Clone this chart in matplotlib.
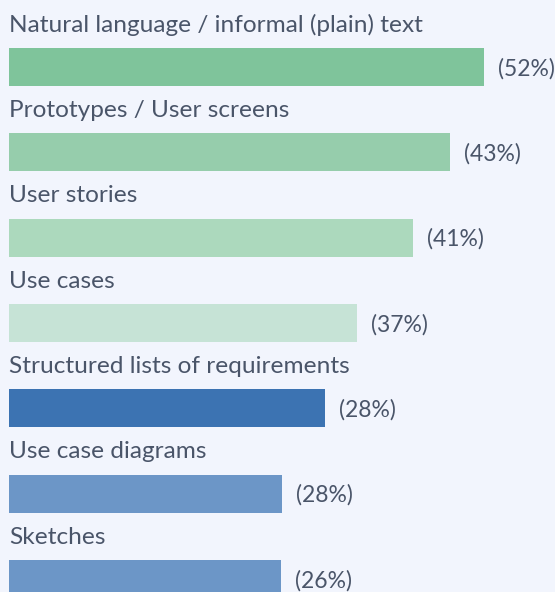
import matplotlib
matplotlib.use("Agg")
import matplotlib.pyplot as plt

# Data
categories = [
    "Natural language / informal (plain) text",
    "Prototypes / User screens",
    "User stories",
    "Use cases",
    "Structured lists of requirements",
    "Use case diagrams",
    "Sketches",
]
bar_lengths = [52, 48.3, 44.2, 38.1, 34.6, 29.9, 29.8]
pct_labels = ["(52%)", "(43%)", "(41%)", "(37%)", "(28%)", "(28%)", "(26%)"]
colors = ["#7fc49b", "#96cdac", "#acd9bd", "#c6e3d6", "#3c73b2", "#6c96c7", "#6c96c7"]

bg = "#f2f5fd"
text_col = "#4a5569"

fig = plt.figure(figsize=(5.55, 5.92), dpi=100, facecolor=bg)
ax = fig.add_axes([0, 0, 1, 1], facecolor=bg)

ypos = list(range(len(categories)))
bar_h = 0.445
ax.barh(ypos, bar_lengths, height=bar_h, color=colors, left=0)

for y, name, length, pct in zip(ypos, categories, bar_lengths, pct_labels):
    ax.text(0, y - bar_h / 2 - 0.19, name, fontsize=17.6, family="Lato",
            color=text_col, va="baseline", ha="left")
    ax.annotate(pct, (length, y), xytext=(10, -1), textcoords="offset points",
                fontsize=16.5, family="Lato", color=text_col,
                va="center", ha="left")

ax.set_xlim(-0.985, 59.77)
ax.set_ylim(6.152, -0.785)
ax.axis("off")

fig.savefig("out.png", dpi=100, facecolor=bg)
